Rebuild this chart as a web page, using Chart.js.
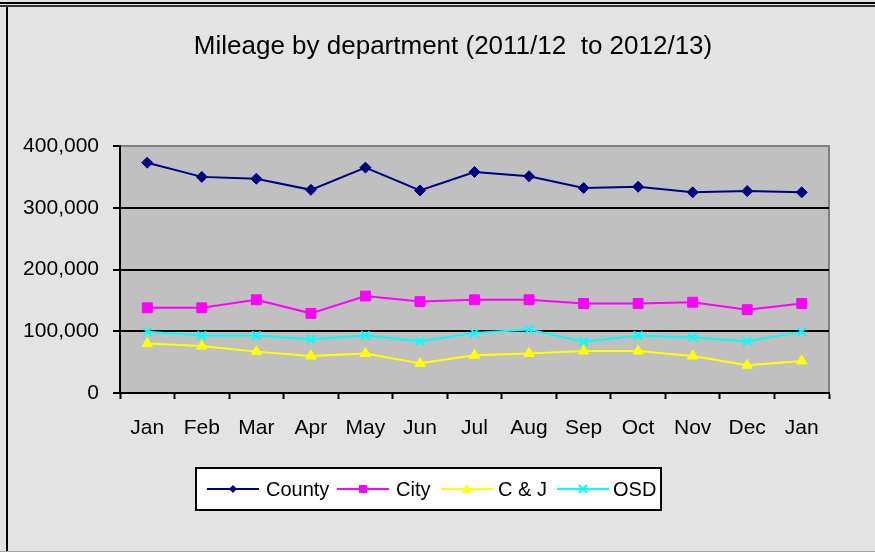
<!DOCTYPE html>
<html>
<head>
<meta charset="utf-8">
<script src="https://cdn.jsdelivr.net/npm/chart.js@4/dist/chart.umd.min.js"></script>
<style>
  html, body { margin: 0; padding: 0; background: #e3e3e3; }
  canvas { display: block; }
</style>
</head>
<body>
<canvas id="chart" width="875" height="552"></canvas>
<script>
// Data
const months = ['Jan', 'Feb', 'Mar', 'Apr', 'May', 'Jun', 'Jul', 'Aug', 'Sep', 'Oct', 'Nov', 'Dec', 'Jan'];
const county = [373000, 350000, 347000, 329000, 365000, 328000, 358000, 351000, 332000, 334000, 325000, 327000, 325000];
const city = [138000, 138000, 151000, 129000, 157000, 148000, 151000, 151000, 145000, 145000, 147000, 135000, 145000];
const cAndJ = [80000, 76000, 67000, 60000, 64000, 48000, 61000, 64000, 68000, 68000, 60000, 45000, 52000];
const osd = [99000, 93000, 93000, 87000, 93000, 84000, 97000, 103000, 83000, 93000, 90000, 84000, 99000];
const yTicks = [0, 100000, 200000, 300000, 400000];
const chartTitle = 'Mileage by department (2011/12  to 2012/13)';

const FONT = 'Arial, "Liberation Sans", sans-serif';

// Background, outer frame, title and plot area fill
const framePlugin = {
    id: 'frame',
    beforeDraw(chart) {
        const ctx = chart.ctx;
        const a = chart.chartArea;
        ctx.save();
        ctx.fillStyle = '#e3e3e3';
        ctx.fillRect(0, 0, chart.width, chart.height);
        // top double rule
        ctx.fillStyle = '#000';
        ctx.fillRect(0, 2, chart.width, 2);
        ctx.fillStyle = '#333';
        ctx.fillRect(0, 5, chart.width, 2);
        // left rule
        ctx.fillStyle = '#000';
        ctx.fillRect(6, 7, 2, chart.height - 7);
        // bottom rule
        ctx.fillStyle = '#a0a0a0';
        ctx.fillRect(0, chart.height - 1, chart.width, 1);
        // title
        ctx.fillStyle = '#000';
        ctx.font = '26px ' + FONT;
        ctx.textAlign = 'center';
        ctx.textBaseline = 'middle';
        ctx.fillText(chartTitle, 453, 47);
        // plot area
        ctx.fillStyle = '#c0c0c0';
        ctx.fillRect(a.left, a.top, a.right - a.left, a.bottom - a.top);
        ctx.strokeStyle = '#808080';
        ctx.lineWidth = 2;
        ctx.beginPath();
        ctx.moveTo(a.left, a.top);
        ctx.lineTo(a.right, a.top);
        ctx.lineTo(a.right, a.bottom);
        ctx.stroke();
        ctx.restore();
    }
};

function drawMarker(ctx, style, x, y, r, color) {
    ctx.save();
    ctx.fillStyle = color;
    ctx.strokeStyle = color;
    ctx.lineWidth = 2;
    ctx.beginPath();
    if (style === 'rectRot') {
        ctx.moveTo(x - r, y); ctx.lineTo(x, y - r); ctx.lineTo(x + r, y); ctx.lineTo(x, y + r);
        ctx.closePath(); ctx.fill();
    } else if (style === 'rect') {
        ctx.rect(x - r, y - r, 2 * r, 2 * r); ctx.fill();
    } else if (style === 'triangle') {
        ctx.moveTo(x - r, y + r * 0.8); ctx.lineTo(x, y - r); ctx.lineTo(x + r, y + r * 0.8);
        ctx.closePath(); ctx.fill();
    } else {
        ctx.moveTo(x - r, y - r); ctx.lineTo(x + r, y + r);
        ctx.moveTo(x + r, y - r); ctx.lineTo(x - r, y + r);
        ctx.stroke();
    }
    ctx.restore();
}

// Boxed legend with line + marker samples
const legendPlugin = {
    id: 'boxLegend',
    afterDraw(chart) {
        const ctx = chart.ctx;
        const box = { x: 196, y: 468, w: 465, h: 42 };
        const cy = box.y + box.h / 2;
        const lineStarts = [207, 337, 441, 557];
        const textStarts = [266, 396, 498, 613];
        const markerSizes = [4, 4, 5, 4];
        ctx.save();
        ctx.fillStyle = '#fff';
        ctx.fillRect(box.x, box.y, box.w, box.h);
        ctx.strokeStyle = '#000';
        ctx.lineWidth = 2;
        ctx.strokeRect(box.x, box.y, box.w, box.h);
        ctx.font = '20px ' + FONT;
        ctx.textBaseline = 'middle';
        chart.data.datasets.forEach((ds, i) => {
            const x0 = lineStarts[i];
            ctx.strokeStyle = ds.borderColor;
            ctx.lineWidth = 2;
            ctx.beginPath();
            ctx.moveTo(x0, cy);
            ctx.lineTo(x0 + 52, cy);
            ctx.stroke();
            drawMarker(ctx, ds.pointStyle, x0 + 26, cy, markerSizes[i], ds.borderColor);
            ctx.fillStyle = '#000';
            ctx.fillText(ds.label, textStarts[i], cy + 1);
        });
        ctx.restore();
    }
};

const ctx = document.getElementById('chart').getContext('2d');
new Chart(ctx, {
    type: 'line',
    data: {
        labels: months,
        datasets: [
            { label: 'County', data: county, borderColor: '#000080', backgroundColor: '#000080', pointStyle: 'rectRot', pointRadius: 5.5 },
            { label: 'City', data: city, borderColor: '#ff00ff', backgroundColor: '#ff00ff', pointStyle: 'rect', pointRadius: 7 },
            { label: 'C & J', data: cAndJ, borderColor: '#ffff00', backgroundColor: '#ffff00', pointStyle: 'triangle', pointRadius: 6 },
            { label: 'OSD', data: osd, borderColor: '#00ffff', backgroundColor: '#00ffff', pointStyle: 'crossRot', pointRadius: 6, pointBorderWidth: 2 }
        ]
    },
    options: {
        responsive: false,
        animation: false,
        devicePixelRatio: 1,
        elements: {
            line: { borderWidth: 2, tension: 0 },
            point: { borderWidth: 1, hoverRadius: 6 }
        },
        layout: { padding: { left: 0, right: 46, top: 146, bottom: 0 } },
        plugins: {
            legend: { display: false },
            tooltip: { enabled: false },
            title: { display: false }
        },
        scales: {
            x: {
                offset: true,
                grid: { offset: true, drawOnChartArea: false, tickLength: 6, color: '#000', tickWidth: 2 },
                border: { color: '#000', width: 2 },
                ticks: { color: '#000', font: { family: FONT, size: 21 }, padding: 17, maxRotation: 0, autoSkip: false },
                afterFit(scale) { scale.height = 159; }
            },
            y: {
                min: 0,
                max: 400000,
                afterBuildTicks(scale) { scale.ticks = yTicks.map(v => ({ value: v })); },
                grid: {
                    color: c => (c.tick && c.tick.value === 400000) ? 'rgba(0,0,0,0)' : '#000',
                    lineWidth: 2,
                    tickLength: 7,
                    tickColor: '#000',
                    tickWidth: 2
                },
                border: { color: '#000', width: 2 },
                ticks: {
                    color: '#000',
                    font: { family: FONT, size: 21 },
                    padding: 14,
                    callback: v => v.toLocaleString('en-US')
                },
                afterFit(scale) { scale.width = 120; }
            }
        }
    },
    plugins: [framePlugin, legendPlugin]
});
</script>
</body>
</html>
